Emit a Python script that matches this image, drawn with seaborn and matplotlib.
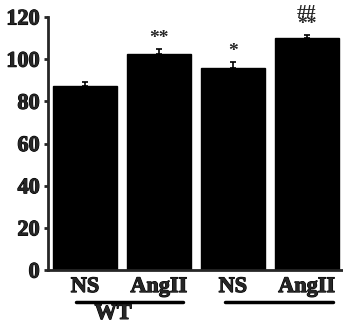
import numpy as np
import seaborn as sns
import matplotlib
matplotlib.use('Agg')
import matplotlib.pyplot as plt
from matplotlib import transforms
import matplotlib.patheffects as pe

# data
groups = ["WT_NS", "WT_AngII", "KO_NS", "KO_AngII"]
tick_labels = ["NS", "AngII", "NS", "AngII"]
values = [87.3, 102.5, 95.8, 110.0]
errors = [1.7, 2.3, 2.8, 1.5]
marks = ["", "**", "*", "##\n**"]
yticks = [0, 20, 40, 60, 80, 100, 120]

sns.set_style("ticks")
plt.rcParams['font.family'] = ['Liberation Serif', 'DejaVu Serif']
plt.rcParams['font.weight'] = 'bold'
heavy = [pe.withStroke(linewidth=0.8, foreground='black')]

fig = plt.figure(figsize=(3.43, 3.27), dpi=100)
ax = fig.add_axes([0.14, 0.174, 0.86, 0.774])

sns.barplot(x=groups, y=values, order=groups, color='black', width=0.86,
            saturation=1, errorbar=None, ax=ax)
for p in ax.patches:
    p.set_edgecolor('black')

pos = np.arange(len(values))
ax.errorbar(pos, values, yerr=[np.zeros(len(errors)), errors], fmt='none',
            ecolor='black', elinewidth=1.2, capsize=2.5, capthick=1.2)

# significance marks ('##' stacked tightly over '**' on the last bar)
for x, v, e, m in zip(pos, values, errors, marks):
    if not m:
        continue
    ax.text(x, v + e + 0.8, m, ha='center', va='bottom', fontsize=14,
            fontweight='bold', linespacing=0.55)

ax.set_xlim(-0.5, 3.49)
ax.set_ylim(0, 120)
ax.set_yticks(yticks)
ax.set_yticklabels([str(t) for t in yticks], fontsize=16, fontweight='bold')
ax.set_xticks(pos)
ax.set_xticklabels(tick_labels, fontsize=16, fontweight='bold')
for t in ax.get_yticklabels() + ax.get_xticklabels():
    t.set_path_effects(heavy)
ax.tick_params(axis='x', length=0, pad=5)
ax.tick_params(axis='y', length=3, width=2, pad=3)
ax.set_xlabel('')
ax.set_ylabel('')
sns.despine(ax=ax)
for s in ['left', 'bottom']:
    ax.spines[s].set_linewidth(2)

# group underlines and label
trans = transforms.blended_transform_factory(ax.transData, fig.transFigure)
ax.plot([pos[0] - 0.12, pos[1] + 0.32], [0.077, 0.077], color='black', lw=2.5,
        transform=trans, clip_on=False)
ax.plot([pos[2] - 0.1, pos[3] + 0.35], [0.077, 0.077], color='black', lw=2.5,
        transform=trans, clip_on=False)
ax.text(pos[0] + 0.38, 0.04, "WT", transform=trans, ha='center', va='center',
        fontsize=16, fontweight='bold', path_effects=heavy)

plt.savefig("out.png", dpi=100)
